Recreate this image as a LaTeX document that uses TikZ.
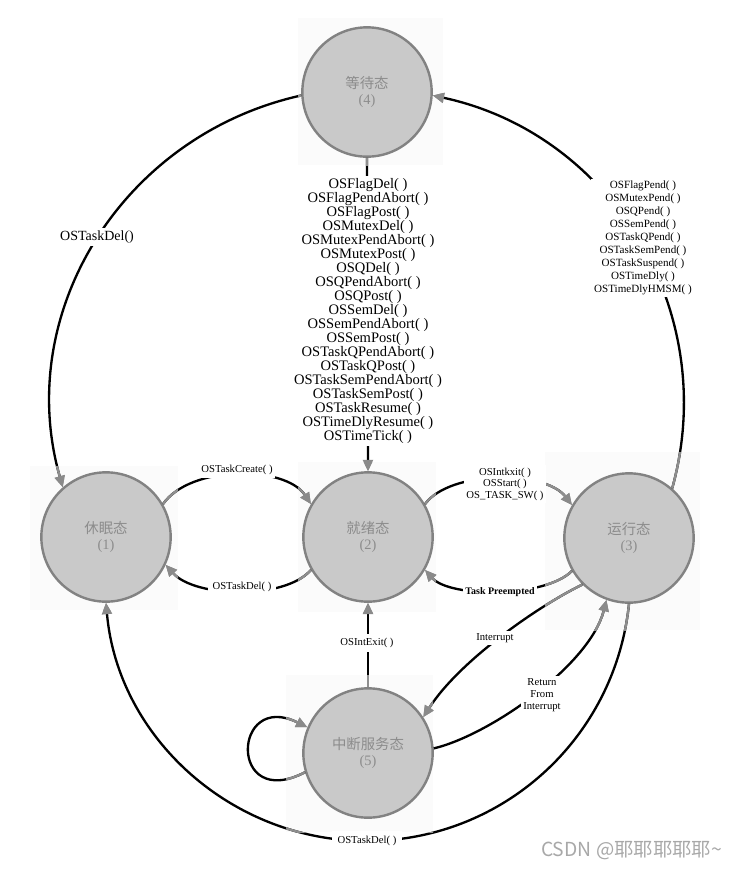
\documentclass[tikz,border=0pt]{standalone}
\usepackage{fontspec}
\setmainfont{Liberation Serif}
\newfontfamily\cjk{Noto Sans CJK SC}
\usetikzlibrary{arrows.meta}
\definecolor{nodefill}{HTML}{C9C9C9}
\definecolor{nodeline}{HTML}{828282}
\definecolor{nodetext}{HTML}{8C8C8C}
\definecolor{tipgray}{HTML}{8A8A8A}
\definecolor{conngray}{HTML}{8E8E8E}
\definecolor{wmgray}{HTML}{A8A8A8}
\definecolor{bgsq}{HTML}{FBFBFB}
\newcommand\allconns[1]{%
  \draw[conn,#1] (n4.183) .. controls (123,135) and (13,312) .. (n1.131);
  \draw[conn,#1] (n3.49) .. controls (721,312) and (612,134) .. (n4.-3);
  \draw[conn,#1] (n4.south) -- (n2.north);
  \draw[conn,#1] (n1.30) .. controls (190,465) and (285,465) .. (n2.150);
  \draw[conn,#1] (n2.-150) .. controls (285,600) and (195,598) .. (n1.-25);
  \draw[conn,#1] (n2.30) .. controls (450,470) and (545,470) .. (n3.150);
  \draw[conn,#1] (n3.-150) .. controls (545,598) and (450,598) .. (n2.-30);
  \draw[conn,#1] (n5.north) -- (n2.south);
  \draw[conn,#1] (n3.225) .. controls (540,605) and (460,660) .. (n5.33);
  \draw[conn,#1] (n5.4) .. controls (490,735) and (590,665) .. (n3.250);
  \draw[conn,#1] (n5.197) .. controls (228,812) and (232,690) .. (n5.157);
  \draw[conn,#1] (n3.-90) .. controls (615,739) and (502,841) .. (mB) .. controls (232,841) and (118,738) .. (n1.-90);
}
\begin{document}
\begin{tikzpicture}[x=0.75pt,y=-0.75pt,
  state/.style={circle,draw=nodeline,fill=nodefill,line width=1.8pt,minimum size=97pt,inner sep=0pt,text=nodetext,align=center,font=\fontsize{10.8}{12}\selectfont},
  conn/.style={line width=1.75pt,-{Triangle[length=8.5pt,width=7.5pt,color=tipgray]}},
  lbl/.style={fill=white,inner sep=1pt,align=center,font=\fontsize{8}{8.6}\selectfont},
]
\useasboundingbox (0,0) rectangle (737,869);
\fill[white] (0,0) rectangle (737,869);
% faint background squares
\fill[bgsq] (298,18) rectangle (443,165);
\fill[bgsq] (30,466) rectangle (178,610);
\fill[bgsq] (298,462) rectangle (436,612);
\fill[bgsq] (545,452) rectangle (700,630);
\fill[bgsq] (286,675) rectangle (433,832);
% states
\node[state] (n4) at (367,92) {{\cjk 等待态}\\(4)};
\node[state] (n1) at (106,537) {{\cjk 休眠态}\\(1)};
\node[state] (n2) at (368,537) {{\cjk 就绪态}\\(2)};
\node[state] (n3) at (629,538) {{\cjk 运行态}\\(3)};
\node[state] (n5) at (368,753) {{\cjk 中断服务态}\\(5)};
\coordinate (mB) at (367,841);
% connectors, black
\allconns{black}
% gray parts inside node squares
\begin{scope}\clip (298,18) rectangle (443,165); \allconns{conngray}\end{scope}
\begin{scope}\clip (30,466) rectangle (178,610); \allconns{conngray}\end{scope}
\begin{scope}\clip (298,462) rectangle (436,612); \allconns{conngray}\end{scope}
\begin{scope}\clip (545,452) rectangle (700,630); \allconns{conngray}\end{scope}
\begin{scope}\clip (286,675) rectangle (433,832); \allconns{conngray}\end{scope}
% labels
\node[lbl,font=\fontsize{10.9}{10.5}\selectfont,inner sep=1.5pt] (Lcenter) at (368,311) {OSFlagDel( )\\OSFlagPendAbort( )\\OSFlagPost( )\\OSMutexDel( )\\OSMutexPendAbort( )\\OSMutexPost( )\\OSQDel( )\\OSQPendAbort( )\\OSQPost( )\\OSSemDel( )\\OSSemPendAbort( )\\OSSemPost( )\\OSTaskQPendAbort( )\\OSTaskQPost( )\\OSTaskSemPendAbort( )\\OSTaskSemPost( )\\OSTaskResume( )\\OSTimeDlyResume( )\\OSTimeTick( )};
\node[lbl,font=\fontsize{8.3}{9.7}\selectfont,inner sep=2pt] (Lright) at (643,238) {OSFlagPend( )\\OSMutexPend( )\\OSQPend( )\\OSSemPend( )\\OSTaskQPend( )\\OSTaskSemPend( )\\OSTaskSuspend( )\\OSTimeDly( )\\OSTimeDlyHMSM( )};
\node[lbl,font=\fontsize{10.5}{11}\selectfont,inner sep=2pt] (Lleft) at (97,237) {OSTaskDel()};
\node[lbl,inner sep=2pt] (Lcreate) at (237,470) {OSTaskCreate( )};
\node[lbl,inner sep=3.5pt] (Ldel12) at (242,587) {OSTaskDel( )};
\node[lbl,inner sep=2pt] (Lstart) at (505,484) {OSIntkxit( )\\OSStart( )\\OS\_TASK\_SW( )};
\node[lbl,font=\bfseries\fontsize{7.5}{8}\selectfont,inner sep=2pt] (Lpre) at (500,592) {Task Preempted};
\node[lbl,inner sep=3pt] (Lintexit) at (367,643) {OSIntExit( )};
\node[lbl,inner sep=2pt] (Lint) at (495,638) {Interrupt};
\node[lbl,font=\fontsize{8}{9}\selectfont,inner sep=2pt] (Lret) at (542,695) {Return\\From\\Interrupt};
\node[lbl,inner sep=4pt] (Ldelbot) at (mB) {OSTaskDel( )};
% watermark
\node[anchor=east,text=wmgray,inner sep=0pt,font=\cjk\fontsize{14.5}{15}\selectfont] (wm) at (722,851) {CSDN @耶耶耶耶耶\textasciitilde};
\end{tikzpicture}
\end{document}
